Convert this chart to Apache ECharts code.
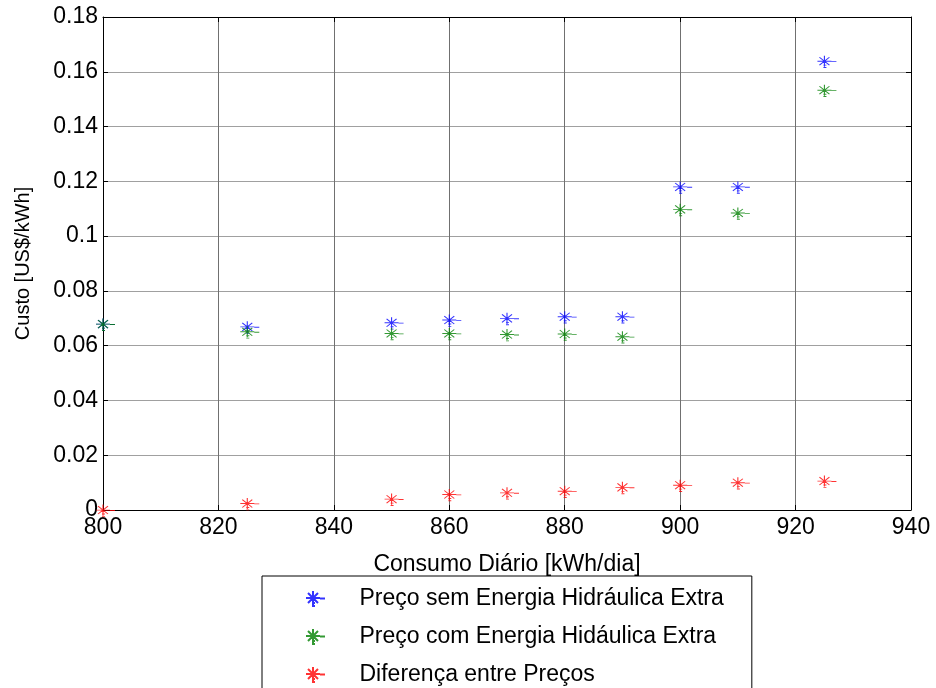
<!DOCTYPE html>
<html>
<head>
<meta charset="utf-8">
<script src="https://cdn.jsdelivr.net/npm/echarts@6/dist/echarts.min.js"></script>
<style>
  html, body { margin: 0; padding: 0; background: #fff; }
  #chart { width: 936px; height: 688px; }
</style>
</head>
<body>
<div id="chart"></div>
<script>
// Consumo diário (kWh/dia)
const consumo = [800, 825, 850, 860, 870, 880, 890, 900, 910, 925];
// Custo (US$/kWh)
const precoSemExtra = [0.0679, 0.0669, 0.0684, 0.0694, 0.0700, 0.0706, 0.0706, 0.1180, 0.1180, 0.1639];
const precoComExtra = [0.0679, 0.0651, 0.0645, 0.0645, 0.0641, 0.0643, 0.0633, 0.1098, 0.1085, 0.1533];
const diferenca     = [0.0000, 0.0024, 0.0040, 0.0057, 0.0063, 0.0069, 0.0083, 0.0091, 0.0100, 0.0106];

const seriesNames = [
  'Preço sem Energia Hidráulica Extra',
  'Preço com Energia Hidáulica Extra',
  'Diferença entre Preços'
];
const seriesColors = ['#0000ff', '#008000', '#ff0000'];

const xTicks = { min: 800, max: 940, interval: 20 };
const yTicks = { min: 0, max: 0.18, interval: 0.02 };

// asterisk marker with the small dash fragments beside it
const star = 'path://M0 7L14 7M7 0L7 14M2 2L12 12M12 2L2 12M14 7.5L19 7.5M6 12L9 12M6 15L9 15';

const font = 'Liberation Sans, Arial, sans-serif';

function pairs(ys) { return consumo.map((x, i) => [x, ys[i]]); }

function scatter(name, ys, color) {
  return {
    name: name,
    type: 'scatter',
    data: pairs(ys),
    symbol: star,
    symbolSize: [19, 15],
    symbolOffset: [2.5, 0.5],
    symbolKeepAspect: true,
    clip: false,
    itemStyle: { color: color, borderColor: color, borderWidth: 1 },
    emphasis: { disabled: true }
  };
}

const chart = echarts.init(document.getElementById('chart'));
chart.setOption({
  animation: false,
  backgroundColor: '#fff',
  grid: { left: 103, top: 17, right: 25, bottom: 178 },
  xAxis: [
    {
      type: 'value', position: 'bottom',
      min: xTicks.min, max: xTicks.max, interval: xTicks.interval,
      name: 'Consumo Diário [kWh/dia]', nameLocation: 'middle', nameGap: 43,
      nameTextStyle: { color: '#000', fontSize: 23, fontFamily: font },
      axisLine: { show: true, onZero: false, lineStyle: { color: '#000', width: 1 } },
      axisTick: { show: true, inside: true, length: 5, lineStyle: { color: '#000' } },
      axisLabel: { color: '#000', fontSize: 23, fontFamily: font, margin: 6 },
      splitLine: { show: true, lineStyle: { color: '#707070', width: 1 } }
    },
    {
      type: 'value', position: 'top',
      min: xTicks.min, max: xTicks.max, interval: xTicks.interval,
      axisLine: { show: true, onZero: false, lineStyle: { color: '#000', width: 1 } },
      axisTick: { show: true, inside: true, length: 5, lineStyle: { color: '#000' } },
      axisLabel: { show: false },
      splitLine: { show: false }
    }
  ],
  yAxis: [
    {
      type: 'value', position: 'left',
      min: yTicks.min, max: yTicks.max, interval: yTicks.interval,
      name: 'Custo [US$/kWh]', nameLocation: 'middle', nameGap: 70,
      nameTextStyle: { color: '#000', fontSize: 20, fontFamily: font },
      axisLine: { show: true, onZero: false, lineStyle: { color: '#000', width: 1 } },
      axisTick: { show: true, inside: true, length: 5, lineStyle: { color: '#000' } },
      axisLabel: { color: '#000', fontSize: 23, fontFamily: font, margin: 5 },
      splitLine: { show: true, lineStyle: { color: '#a0a0a0', width: 1 } }
    },
    {
      type: 'value', position: 'right',
      min: yTicks.min, max: yTicks.max, interval: yTicks.interval,
      axisLine: { show: true, onZero: false, lineStyle: { color: '#000', width: 1 } },
      axisTick: { show: true, inside: true, length: 5, lineStyle: { color: '#000' } },
      axisLabel: { show: false },
      splitLine: { show: false }
    }
  ],
  legend: {
    orient: 'vertical',
    left: 262, top: 576,
    height: 140,
    padding: [11, 28, 20, 43],
    itemGap: 15,
    itemWidth: 78, itemHeight: 15,
    borderColor: '#000', borderWidth: 1,
    selectedMode: false,
    textStyle: { color: '#000', fontSize: 23, fontFamily: font },
    data: seriesNames
  },
  series: [
    scatter(seriesNames[0], precoSemExtra, seriesColors[0]),
    scatter(seriesNames[1], precoComExtra, seriesColors[1]),
    scatter(seriesNames[2], diferenca, seriesColors[2])
  ]
});
</script>
</body>
</html>
